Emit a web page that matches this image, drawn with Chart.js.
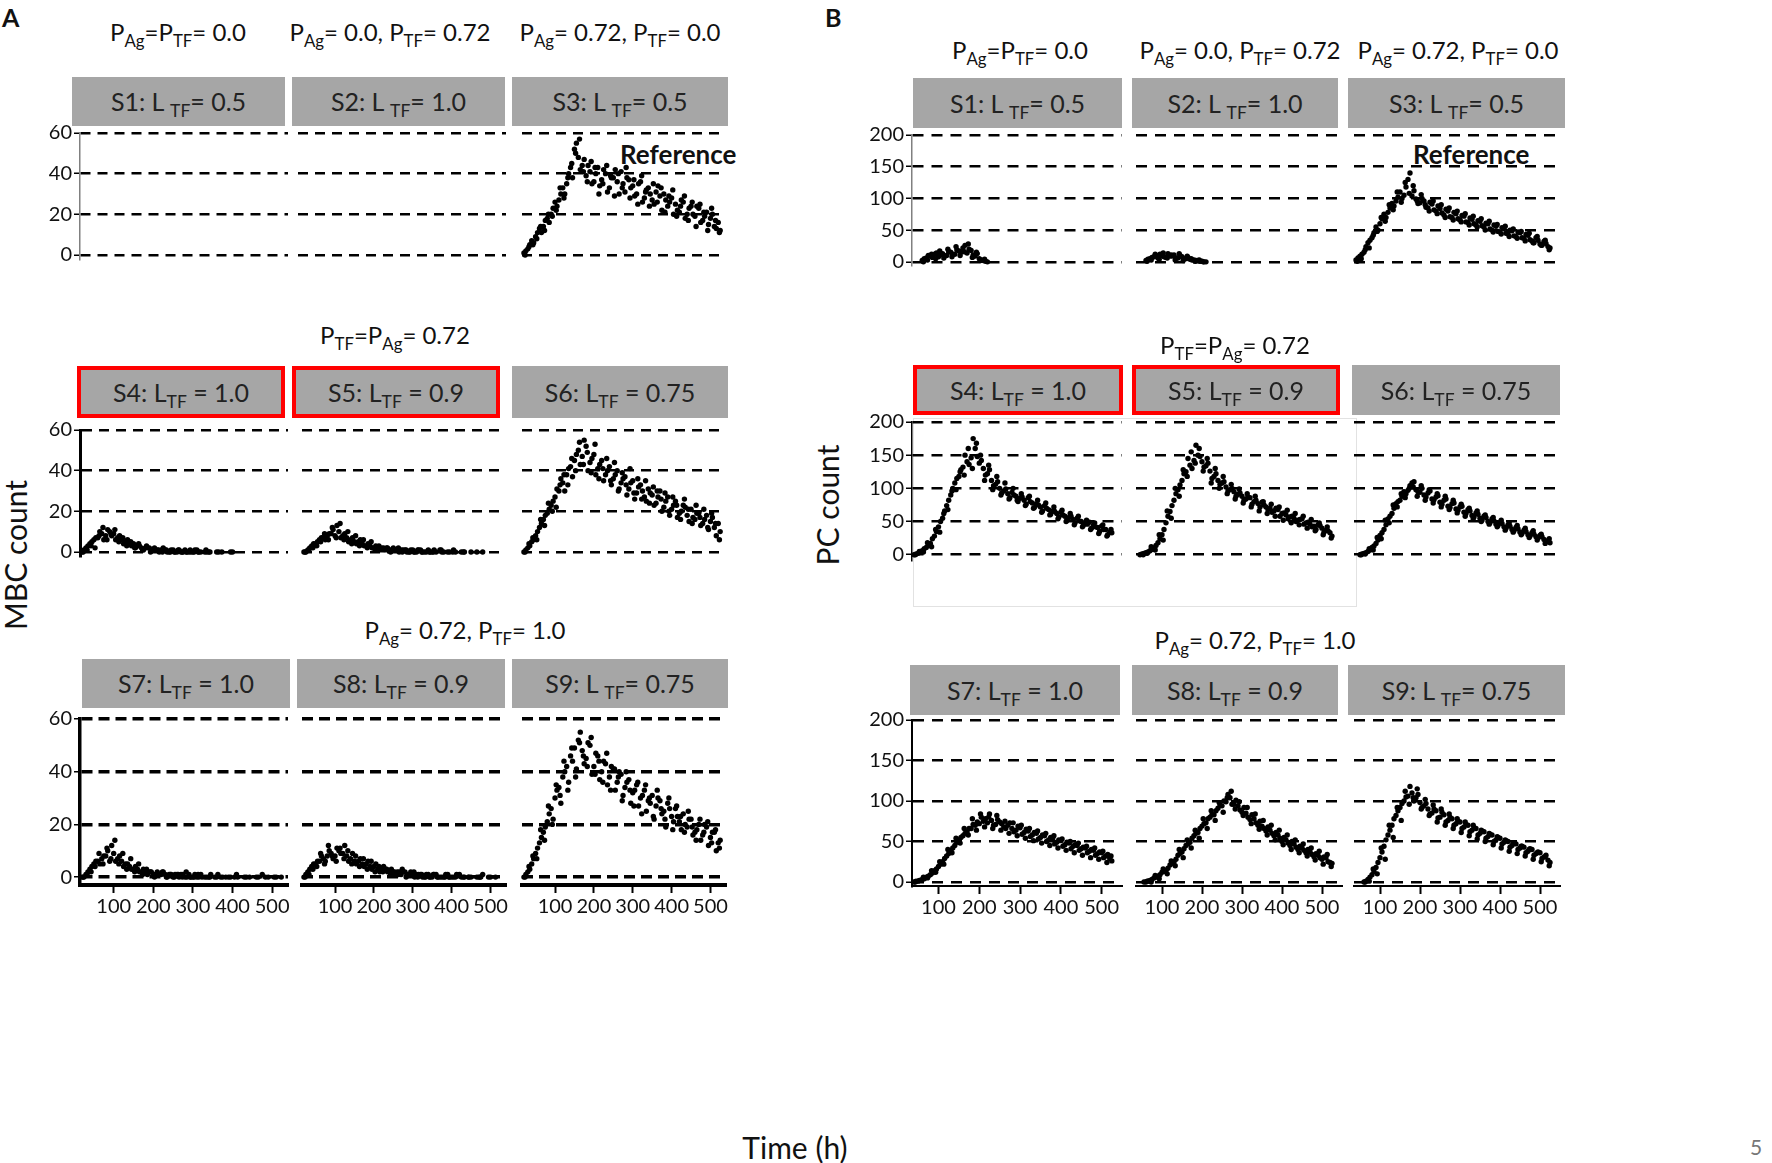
<!DOCTYPE html>
<html>
<head>
<meta charset="utf-8">
<script src="https://cdn.jsdelivr.net/npm/chart.js@4.4.1/dist/chart.umd.min.js"></script>
<style>
  body { margin: 0; background: #fff; width: 1772px; height: 1163px; position: relative; overflow: hidden;
         font-family: Lato, "Open Sans", sans-serif; color: #111; }
  .hdr { position: absolute; background: #a6a6a6; color: #222; font-size: 25px; text-align: center;
         box-sizing: border-box; white-space: nowrap; }
  .red { border: 4px solid #ff0000; }
  .ttl { position: absolute; font-size: 24px; line-height: 30px; transform: translateX(-50%); white-space: nowrap; }
  sub { font-size: 70%; vertical-align: -0.35em; line-height: 0; }
  .lbl { position: absolute; white-space: nowrap; }
  canvas { position: absolute; }
</style>
</head>
<body>
<div class="lbl" style="left:2px;top:2px;font-size:25px;font-weight:bold">A</div>
<div class="lbl" style="left:825px;top:2px;font-size:25px;font-weight:bold">B</div>
<div class="lbl" style="left:620px;top:138px;font-size:26px;font-weight:bold">Reference</div>
<div class="lbl" style="left:1413px;top:138px;font-size:26px;font-weight:bold">Reference</div>
<div class="lbl" style="left:15px;top:555px;font-size:30px;transform:translate(-50%,-50%) rotate(-90deg)">MBC count</div>
<div class="lbl" style="left:827px;top:505px;font-size:30px;transform:translate(-50%,-50%) rotate(-90deg)">PC count</div>
<div class="lbl" style="left:795px;top:1147px;font-size:30px;transform:translate(-50%,-50%)">Time (h)</div>
<div class="lbl" style="left:1750px;top:1134px;font-size:21px;color:#777">5</div>
<div class="lbl" style="left:913px;top:418px;width:442px;height:187px;border:1px solid #e2e2e2"></div>

<script>
// sample times (h), three interleaved grids
const XA = [20,30,40,50,60,70,80,90,100,110,120,130,140,150,160,170,180,190,200,210,220,230,240,250,260,270,280,290,300,310,320,330,340,350,360,370,380,390,400,410,420,430,440,450,460,470,480,490,500,510,520];
const XB = [25,35,45,55,65,75,85,95,105,115,125,135,145,155,165,175,185,195,205,215,225,235,245,255,265,275,285,295,305,315,325,335,345,355,365,375,385,395,405,415,425,435,445,455,465,475,485,495,505,515,525];
const XC = [23,33,43,53,63,73,83,93,103,113,123,133,143,153,163,173,183,193,203,213,223,233,243,253,263,273,283,293,303,313,323,333,343,353,363,373,383,393,403,413,423,433,443,453,463,473,483,493,503,513,523];

const X_TICKS = [100,200,300,400,500];
const A_Y_TICKS = [0,20,40,60];
const B_Y_TICKS = [0,50,100,150,200];

// A: MBC count
const A_S3_a = [1,3,7,9,13,14,18,20,26,27,33,35,43,52,48,44,39,41,36,43,37,40,33,38,36,41,31,37,34,30,36,28,33,27,31,29,30,24,28,25,21,26,20,24,19,23,17,21,18,14,16];
const A_S3_b = [2,5,6,11,11,17,16,23,24,30,30,40,38,55,42,47,44,35,40,34,42,31,38,42,30,35,38,33,29,35,26,32,30,25,34,22,27,26,20,22,27,18,23,20,24,16,19,15,20,13,12];
const A_S3_c = [0,4,5,8,14,12,20,19,22,33,28,38,45,50,57,41,36,46,43,30,35,44,39,29,40,33,43,28,37,25,39,31,24,35,26,33,21,29,32,19,24,29,17,26,14,25,21,12,23,17,11];
const A_S4_a = [0,2,4,6,7,9,8,10,9,7,6,5,4,4,3,2,2,2,1,1,1,1,0,1,0,0,1,0,0,1,0,0,0,null,0,null,null,null,0];
const A_S4_b = [1,3,5,7,10,6,11,8,6,8,4,6,3,2,3,1,2,1,1,0,2,0,1,0,1,0,0,0,1,0,null,0,null,null,0,null,null,0];
const A_S4_c = [0,1,3,2,8,12,6,9,11,5,7,3,5,2,4,1,3,0,2,1,0,1,0,0,1,0,0,1,0,0,null,1,0,null,null,0];
const A_S5_a = [0,1,3,4,6,7,8,9,8,10,8,7,6,5,5,4,3,3,2,2,2,1,1,2,1,1,1,0,1,0,1,0,1,0,0,1,0,0,null,0,null,0,null,0,null,null,0];
const A_S5_b = [0,2,4,5,7,6,9,11,13,7,9,5,7,4,6,3,4,2,3,1,2,2,1,1,0,1,0,1,0,1,0,0,0,1,null,0,null,0,1,null,0,null,null,null,0];
const A_S5_c = [0,1,2,3,5,9,6,12,7,14,6,10,4,8,3,6,2,5,1,3,1,2,0,1,2,0,1,0,0,1,0,null,0,0,null,1,null,null,0,null,null,0];
const A_S6_a = [0,2,5,8,12,16,19,23,27,30,34,38,42,45,50,47,52,44,48,41,45,38,42,36,40,34,37,31,35,29,33,27,31,28,24,30,22,27,21,25,19,23,18,21,16,19,14,18,15,12,14];
const A_S6_b = [1,3,6,10,14,18,21,25,31,36,30,41,37,48,43,55,40,46,38,43,35,40,33,38,31,36,28,34,26,32,30,25,29,23,27,20,25,18,23,17,20,22,15,17,19,13,16,11,17,8,10];
const A_S6_c = [0,4,7,6,16,13,24,20,22,33,38,33,46,40,54,43,49,39,53,36,41,46,35,44,30,39,33,41,29,36,26,35,24,32,30,26,29,20,27,23,16,26,21,14,23,17,21,12,19,14,6];
const A_S7_a = [0,1,3,5,6,7,8,6,9,7,6,5,4,3,3,2,2,2,1,2,1,1,1,0,1,1,0,1,0,0,1,0,0,null,0,0,null,0,null,1,null,0,null,null,0,null,null,0,null,0];
const A_S7_b = [0,2,4,6,5,8,10,12,6,8,4,5,3,4,2,3,1,2,1,1,2,0,1,1,0,1,0,0,1,0,null,0,1,0,null,0,null,0,0,null,null,0,null,null,0,1,null,null,0];
const A_S7_c = [0,1,2,4,9,5,11,7,14,5,9,3,7,2,5,1,3,2,0,1,2,0,1,0,1,0,2,0,0,1,0,null,0,null,1,null,0,null,null,0,null,null,0,null,null,null,0,null,null,null,0];
const A_S8_a = [0,2,4,5,6,7,8,9,8,10,9,8,7,6,6,5,5,4,4,3,3,3,2,2,2,1,2,1,1,1,1,0,1,0,1,0,0,1,0,0,1,0,null,0,null,0,1,null,0];
const A_S8_b = [1,3,5,6,8,6,10,7,11,9,12,6,9,5,7,4,6,3,5,2,4,2,3,1,2,2,1,2,0,1,0,1,0,1,0,0,1,0,0,null,0,null,0,null,0,0,null,0];
const A_S8_c = [0,1,3,4,9,5,12,8,6,11,7,10,5,8,4,7,3,6,2,4,2,3,1,2,1,3,0,1,2,0,1,0,0,1,0,null,0,0,null,1,null,0,0,null,null,0,null,null,null,0];
const A_S9_a = [0,2,5,9,13,17,21,26,30,34,38,42,46,49,52,48,45,50,42,46,40,43,38,41,36,39,34,37,32,35,30,33,29,31,27,29,25,28,23,26,21,24,19,22,17,20,16,19,15,17,13];
const A_S9_b = [1,3,7,11,15,19,24,22,33,28,40,36,44,41,55,43,51,39,47,37,44,35,42,33,40,31,36,28,33,27,31,25,28,22,30,24,19,26,21,23,18,20,22,16,18,14,20,12,17,10,14];
const A_S9_c = [0,4,8,7,18,14,27,20,35,31,44,33,49,38,51,46,42,53,39,44,36,47,33,41,38,29,40,33,27,36,24,35,30,23,33,26,22,30,18,27,23,17,25,19,14,22,17,21,13,18,11];

// B: PC count
const B_S1_a = [null,null,null,null,2,6,9,12,8,13,10,15,12,17,22,14,18,9,5,2,0];
const B_S1_b = [null,null,null,null,5,10,7,14,11,9,16,12,19,15,26,20,11,13,3,1];
const B_S1_c = [null,null,null,null,0,3,12,5,17,6,20,8,24,10,16,28,7,15,2,4];
const B_S2_a = [null,null,null,null,2,5,8,6,10,7,9,11,6,8,5,4,3,2,1,0];
const B_S2_b = [null,null,null,null,4,7,10,12,8,13,9,6,10,5,7,3,2,1,0];
const B_S2_c = [null,null,null,null,1,3,12,4,14,6,11,3,13,2,9,5,1,3,0];
const B_S3_a = [null,null,3,9,15,30,38,55,60,75,78,92,96,110,105,130,104,99,93,96,85,91,80,84,74,80,70,76,66,72,62,67,58,64,55,60,50,56,47,52,44,49,40,46,37,42,33,38,28,32,24];
const B_S3_b = [null,null,6,12,24,34,46,50,68,70,85,88,102,100,118,140,112,92,100,86,94,82,88,77,83,71,78,68,73,63,69,60,65,57,61,52,58,48,54,45,50,41,47,38,43,35,30,34,26,29,22];
const B_S3_c = [null,null,1,5,19,22,42,48,70,64,90,82,110,94,125,108,120,96,106,90,80,96,76,90,70,85,66,80,63,76,58,72,55,68,50,64,47,59,44,56,40,52,37,48,33,45,30,40,26,34,19];
const B_S4_a = [null,null,0,2,6,11,17,28,42,55,74,90,108,118,132,140,146,160,138,130,122,112,106,100,96,92,94,88,85,82,86,78,76,72,74,68,66,62,64,58,56,53,55,50,47,49,44,41,43,38,34];
const B_S4_b = [null,null,1,4,9,14,24,35,50,66,82,100,115,128,150,136,175,148,142,120,128,104,110,93,99,86,90,80,87,76,80,71,75,66,70,61,65,57,60,52,58,48,51,44,46,40,42,35,38,30,33];
const B_S4_c = [null,null,0,5,4,18,12,38,34,62,68,96,98,125,120,160,130,168,150,112,135,98,118,90,108,84,100,82,92,74,88,70,82,64,78,60,72,54,67,50,62,45,58,42,52,38,48,32,45,28,38];
const B_S5_a = [null,null,null,1,3,6,10,18,30,48,65,82,98,112,125,135,142,150,140,134,126,118,112,108,102,98,95,91,88,84,86,80,77,79,72,70,66,68,62,60,57,55,52,54,48,46,43,45,40,37,33];
const B_S5_b = [null,null,0,2,4,8,14,24,38,58,74,92,105,122,145,130,165,148,132,138,115,122,106,110,96,100,88,93,82,87,76,82,72,75,68,64,70,58,63,54,58,50,53,46,49,42,38,44,34,36,28];
const B_S5_c = [null,null,null,0,2,12,7,30,22,66,55,100,88,128,118,155,138,160,126,145,108,130,100,118,92,106,84,99,78,92,72,88,66,80,62,76,58,72,52,67,48,62,45,58,40,53,36,48,30,42,25];
const B_S6_a = [null,null,null,0,2,5,11,17,29,38,54,62,77,82,95,97,108,98,94,90,93,84,87,79,82,73,77,69,72,64,68,59,63,55,58,50,54,46,49,42,45,38,41,34,37,30,33,27,29,23,21];
const B_S6_b = [null,null,null,1,3,7,13,22,33,45,58,70,80,88,92,104,110,95,100,87,96,83,89,76,84,71,78,67,73,62,66,57,61,52,56,48,51,44,47,40,43,36,39,32,35,28,31,25,27,20,18];
const B_S6_c = [null,null,null,0,1,9,7,26,24,52,48,75,72,92,86,100,102,88,104,82,98,78,92,72,88,68,82,63,76,58,70,54,66,50,60,46,56,42,52,37,48,34,44,30,40,26,36,22,31,17,24];
const B_S7_a = [null,null,0,1,3,6,9,14,19,25,32,39,45,52,57,62,66,70,72,75,73,76,71,74,68,70,66,64,67,61,63,58,60,55,57,52,54,49,51,46,48,44,45,41,42,38,39,35,36,32,29];
const B_S7_b = [null,null,1,2,4,7,11,16,22,29,35,42,49,55,60,66,71,74,80,78,84,70,77,72,66,73,62,69,59,65,56,61,53,58,50,55,47,52,44,49,41,46,39,43,36,40,33,37,30,34,26];
const B_S7_c = [null,null,0,2,6,5,14,12,25,22,40,36,54,48,66,58,78,64,84,68,80,66,82,64,75,60,73,57,70,54,66,51,63,48,60,45,57,42,53,39,50,36,48,33,44,30,42,28,38,24,32];
const B_S8_a = [null,null,null,null,0,2,5,7,12,14,21,25,33,37,45,49,57,61,69,73,80,83,91,94,99,104,96,94,86,85,77,78,70,69,63,64,57,58,50,52,45,47,40,42,36,37,31,33,28,30,24];
const B_S8_b = [null,null,null,0,1,3,6,9,13,17,23,28,35,41,47,54,60,66,72,78,83,88,95,100,108,96,101,89,92,80,83,73,75,66,68,60,61,54,55,48,50,43,44,39,40,34,35,30,31,25,23];
const B_S8_c = [null,null,null,null,1,0,8,4,16,10,26,20,40,30,52,42,64,54,78,66,88,76,98,86,104,112,90,99,82,92,72,84,65,76,58,70,52,64,46,58,40,52,36,47,32,42,27,38,22,34,19];
const B_S9_a = [null,null,null,null,0,3,9,18,30,44,58,70,82,92,100,106,110,104,98,94,90,85,88,80,83,76,78,72,74,68,70,64,66,60,62,56,58,52,54,49,50,45,47,42,43,38,40,35,36,31,27];
const B_S9_b = [null,null,null,null,1,6,13,24,37,52,64,78,88,97,105,118,100,108,92,97,84,90,79,86,74,80,70,75,66,71,62,67,58,63,54,59,50,55,47,51,43,48,40,44,36,41,33,37,29,33,24];
const B_S9_c = [null,null,null,null,0,1,16,10,42,28,70,55,92,76,112,96,104,115,90,102,82,95,74,90,70,84,66,78,61,74,57,70,53,64,50,60,46,56,42,52,38,48,35,44,32,40,28,36,25,31,20];

// panel, row, col, series on XA / XB / XC
const CELLS = [
  ['A',0,0,[],[],[]], ['A',0,1,[],[],[]], ['A',0,2,A_S3_a,A_S3_b,A_S3_c],
  ['A',1,0,A_S4_a,A_S4_b,A_S4_c], ['A',1,1,A_S5_a,A_S5_b,A_S5_c], ['A',1,2,A_S6_a,A_S6_b,A_S6_c],
  ['A',2,0,A_S7_a,A_S7_b,A_S7_c], ['A',2,1,A_S8_a,A_S8_b,A_S8_c], ['A',2,2,A_S9_a,A_S9_b,A_S9_c],
  ['B',0,0,B_S1_a,B_S1_b,B_S1_c], ['B',0,1,B_S2_a,B_S2_b,B_S2_c], ['B',0,2,B_S3_a,B_S3_b,B_S3_c],
  ['B',1,0,B_S4_a,B_S4_b,B_S4_c], ['B',1,1,B_S5_a,B_S5_b,B_S5_c], ['B',1,2,B_S6_a,B_S6_b,B_S6_c],
  ['B',2,0,B_S7_a,B_S7_b,B_S7_c], ['B',2,1,B_S8_a,B_S8_b,B_S8_c], ['B',2,2,B_S9_a,B_S9_b,B_S9_c]
];

// layout of the plot areas (pixels)
const GEOM = {
  A: { colLeft: [80, 298, 518], colW: 208, rowTop: [133, 430, 719], rowH: [168, 168, 166],
       yRange: [[-2, 60], [-2, 60], [-3, 60]], xRange: [15, 540], yTicks: A_Y_TICKS,
       axisColor: ['#808080', '#000', '#000'], axisW: [1.5, 3, 3.5], xAxisW: 4,
       gridW: [2.5, 2.5, 3.5], dash: [[10, 7], [10, 7], [11, 6]] },
  B: { colLeft: [912, 1132, 1350], colW: 210, rowTop: [135, 422, 720], rowH: [172, 180, 166],
       yRange: [[-5, 200], [-8, 200], [-5, 200]], xRange: [35, 550], yTicks: B_Y_TICKS,
       axisColor: ['#808080', '#000', '#000'], axisW: [1.5, 1.5, 2], xAxisW: 2,
       gridW: [2.5, 2.5, 2.5], dash: [[11, 8], [11, 8], [11, 8]] }
};
const YW = 50, XH = 42, PT = 14, PB = 10, PR = 10;
const FONT = { family: 'Lato, "Open Sans", sans-serif', size: 20 };

function toPoints(ys, xs) {
  return ys.map((y, i) => ({ x: xs[i], y: y })).filter(d => d.y !== null && d.y !== undefined);
}

CELLS.forEach(([p, row, col, ya, yb, yc]) => {
  const g = GEOM[p];
  const bottom = row === 2;
  const yw = col === 0 ? YW : 0;
  const canvas = document.createElement('canvas');
  const w = yw + g.colW + PR;
  const h = PT + g.rowH[row] + (bottom ? XH : PB);
  canvas.width = w; canvas.height = h;
  canvas.style.left = (g.colLeft[col] - yw) + 'px';
  canvas.style.top = (g.rowTop[row] - PT) + 'px';
  canvas.style.width = w + 'px'; canvas.style.height = h + 'px';
  document.body.appendChild(canvas);

  const pts = toPoints(ya, XA).concat(toPoints(yb, XB), toPoints(yc, XC));

  new Chart(canvas.getContext('2d'), {
    type: 'scatter',
    data: { datasets: [{ data: pts, backgroundColor: '#000', borderColor: '#000', pointRadius: 2.7, borderWidth: 0, clip: false }] },
    options: {
      responsive: false, animation: false, events: [],
      layout: { padding: { top: PT, right: PR, bottom: bottom ? 0 : PB, left: 0 } },
      plugins: { legend: { display: false }, tooltip: { enabled: false } },
      scales: {
        x: {
          type: 'linear', min: g.xRange[0], max: g.xRange[1], display: bottom,
          afterFit: s => { s.height = XH; },
          afterBuildTicks: s => { s.ticks = X_TICKS.map(v => ({ value: v })); },
          grid: { drawOnChartArea: false, drawTicks: true, tickLength: 8, tickWidth: 2, tickColor: '#000' },
          border: { display: true, color: '#000', width: g.xAxisW },
          ticks: { font: FONT, color: '#111', padding: 2, maxRotation: 0, autoSkip: false }
        },
        y: {
          type: 'linear', min: g.yRange[row][0], max: g.yRange[row][1],
          afterFit: s => { s.width = yw; },
          afterBuildTicks: s => { s.ticks = g.yTicks.map(v => ({ value: v })); },
          grid: { color: '#000', lineWidth: g.gridW[row], drawTicks: col === 0, tickLength: 6,
                  tickWidth: 1.5, tickColor: '#000', tickBorderDash: [] },
          border: { display: col === 0, color: g.axisColor[row], width: g.axisW[row], dash: g.dash[row] },
          ticks: { display: col === 0, font: FONT, color: '#111', padding: 2 }
        }
      }
    }
  });
});

// grey strip headers: left, top, width, height, text, red frame
const HEADERS = [
  [72, 77, 213, 49, 'S1: L <sub>TF</sub>= 0.5', 0],
  [292, 77, 213, 49, 'S2: L <sub>TF</sub>= 1.0', 0],
  [512, 77, 216, 49, 'S3: L <sub>TF</sub>= 0.5', 0],
  [77, 366, 208, 52, 'S4: L<sub>TF</sub> = 1.0', 1],
  [292, 366, 208, 52, 'S5: L<sub>TF</sub> = 0.9', 1],
  [512, 366, 216, 52, 'S6: L<sub>TF</sub> = 0.75', 0],
  [82, 659, 208, 49, 'S7: L<sub>TF</sub> = 1.0', 0],
  [297, 659, 208, 49, 'S8: L<sub>TF</sub> = 0.9', 0],
  [512, 659, 216, 49, 'S9: L <sub>TF</sub>= 0.75', 0],
  [913, 78, 209, 50, 'S1: L <sub>TF</sub>= 0.5', 0],
  [1132, 78, 206, 50, 'S2: L <sub>TF</sub>= 1.0', 0],
  [1348, 78, 217, 50, 'S3: L <sub>TF</sub>= 0.5', 0],
  [913, 365, 210, 50, 'S4: L<sub>TF</sub> = 1.0', 1],
  [1132, 365, 208, 50, 'S5: L<sub>TF</sub> = 0.9', 1],
  [1352, 365, 208, 50, 'S6: L<sub>TF</sub> = 0.75', 0],
  [910, 665, 210, 50, 'S7: L<sub>TF</sub> = 1.0', 0],
  [1132, 665, 206, 50, 'S8: L<sub>TF</sub> = 0.9', 0],
  [1348, 665, 217, 50, 'S9: L <sub>TF</sub>= 0.75', 0]
];
HEADERS.forEach(([l, t, w, h, txt, red]) => {
  const d = document.createElement('div');
  d.className = 'hdr' + (red ? ' red' : '');
  d.style.left = l + 'px'; d.style.top = t + 'px';
  d.style.width = w + 'px'; d.style.height = h + 'px';
  d.style.lineHeight = (h - (red ? 8 : 0)) + 'px';
  d.innerHTML = txt;
  document.body.appendChild(d);
});

// condition titles: centre x, centre y, text
const TITLES = [
  [178, 32, 'P<sub>Ag</sub>=P<sub>TF</sub>= 0.0'],
  [390, 32, 'P<sub>Ag</sub>= 0.0, P<sub>TF</sub>= 0.72'],
  [620, 32, 'P<sub>Ag</sub>= 0.72, P<sub>TF</sub>= 0.0'],
  [395, 335, 'P<sub>TF</sub>=P<sub>Ag</sub>= 0.72'],
  [465, 630, 'P<sub>Ag</sub>= 0.72, P<sub>TF</sub>= 1.0'],
  [1020, 50, 'P<sub>Ag</sub>=P<sub>TF</sub>= 0.0'],
  [1240, 50, 'P<sub>Ag</sub>= 0.0, P<sub>TF</sub>= 0.72'],
  [1458, 50, 'P<sub>Ag</sub>= 0.72, P<sub>TF</sub>= 0.0'],
  [1235, 345, 'P<sub>TF</sub>=P<sub>Ag</sub>= 0.72'],
  [1255, 640, 'P<sub>Ag</sub>= 0.72, P<sub>TF</sub>= 1.0']
];
TITLES.forEach(([cx, cy, txt]) => {
  const d = document.createElement('div');
  d.className = 'ttl';
  d.style.left = cx + 'px'; d.style.top = (cy - 15) + 'px';
  d.innerHTML = txt;
  document.body.appendChild(d);
});
</script>
</body>
</html>
